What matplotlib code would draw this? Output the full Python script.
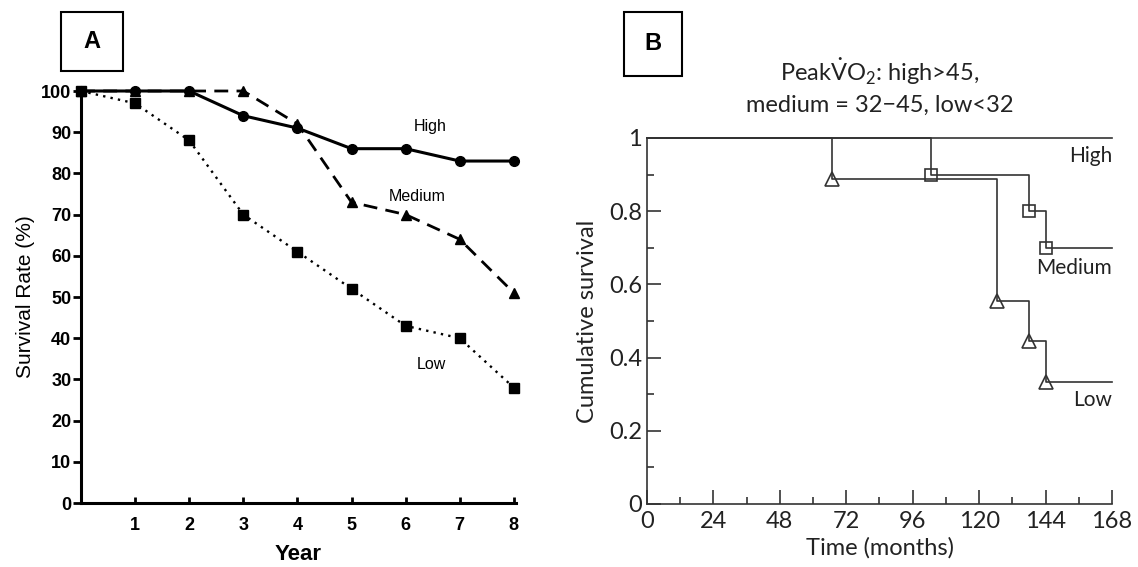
import numpy as np
import matplotlib
matplotlib.use("Agg")
import matplotlib.pyplot as plt
from matplotlib.patches import Rectangle

# panel A data (survival rate %, by year)
years = [0, 1, 2, 3, 4, 5, 6, 7, 8]
high_a = [100, 100, 100, 94, 91, 86, 86, 83, 83]
medium_a = [100, 100, 100, 100, 92, 73, 70, 64, 51]
low_a = [100, 97, 88, 70, 61, 52, 43, 40, 28]

# panel B data (Kaplan-Meier steps, months)
high_t = [0, 168]
high_s = [1.0, 1.0]
medium_t = [0, 102.5, 138, 144, 168]
medium_s = [1.0, 0.9, 0.8, 0.7, 0.7]
low_t = [0, 67, 126.5, 138, 144, 168]
low_s = [1.0, 0.889, 0.556, 0.444, 0.333, 0.333]

W, H = 1138, 567
fig = plt.figure(figsize=(W / 100, H / 100), dpi=100)
fig.patch.set_facecolor("white")

def px_axes(l, t, r, b):
    return fig.add_axes([l / W, 1 - b / H, (r - l) / W, (b - t) / H])

# ---------------- panel A ----------------
fa = "Liberation Sans"
axa = px_axes(81, 91, 516, 503)
axa.plot(years, high_a, "k-", lw=2.2, marker="o", ms=7, clip_on=False, zorder=3)
axa.plot(years, medium_a, "k", ls=(0, (5, 3)), lw=2.0, marker="^", ms=7, clip_on=False, zorder=3)
axa.plot(years, low_a, "k", ls=(0, (1, 2.2)), lw=1.7, marker="s", ms=7, clip_on=False, zorder=3)
axa.set_xlim(0, 8.04)
axa.set_ylim(0, 100)
for s in ["top", "right"]:
    axa.spines[s].set_visible(False)
for s in ["left", "bottom"]:
    axa.spines[s].set_linewidth(2.2)
axa.set_xticks(range(1, 9))
axa.set_yticks(range(0, 101, 10))
axa.tick_params(axis="y", direction="out", length=6, width=2, labelsize=13, pad=1)
axa.tick_params(axis="x", direction="in", length=4, width=2, labelsize=13, pad=10)
for lab in axa.get_xticklabels() + axa.get_yticklabels():
    lab.set_fontfamily(fa)
    lab.set_fontweight("bold")
axa.set_ylabel("Survival Rate (%)", fontsize=15, family=fa, labelpad=4)
axa.set_xlabel("Year", fontsize=16, family=fa, fontweight="bold", labelpad=7)
axa.text(6.45, 91.5, "High", fontsize=11.5, family=fa, ha="center", va="center")
axa.text(6.22, 74.5, "Medium", fontsize=11.5, family=fa, ha="center", va="center")
axa.text(6.47, 33.5, "Low", fontsize=11.5, family=fa, ha="center", va="center")

# ---------------- panel B ----------------
fb = "Lato"
plt.rcParams["mathtext.fontset"] = "custom"
plt.rcParams["mathtext.rm"] = fb
plt.rcParams["mathtext.it"] = fb
axb = px_axes(647, 138, 1112, 504)
axb.step(high_t, high_s, where="post", color="#333333", lw=1.2, clip_on=False)
axb.step(medium_t, medium_s, where="post", color="#333333", lw=1.2, clip_on=False)
axb.step(low_t, low_s, where="post", color="#333333", lw=1.2, clip_on=False)
axb.plot(medium_t[1:-1], medium_s[1:-1], ls="none", marker="s", ms=8, mfc="none",
         mec="#333333", mew=1.2, clip_on=False)
axb.plot(low_t[1:-1], low_s[1:-1], ls="none", marker="^", ms=10, mfc="none",
         mec="#333333", mew=1.2, clip_on=False)
axb.set_xlim(0, 168)
axb.set_ylim(0, 1)
for s in ["top", "right"]:
    axb.spines[s].set_visible(False)
for s in ["left", "bottom"]:
    axb.spines[s].set_linewidth(1.2)
    axb.spines[s].set_color("#333333")
axb.set_xticks(range(0, 169, 24))
axb.set_xticks(range(12, 168, 24), minor=True)
axb.set_yticks([0, 0.2, 0.4, 0.6, 0.8, 1])
axb.set_yticklabels(["0", "0.2", "0.4", "0.6", "0.8", "1"])
axb.set_yticks([0.1, 0.3, 0.5, 0.7, 0.9], minor=True)
axb.tick_params(which="major", direction="in", length=10, width=1.2, color="#333333",
                labelsize=17, labelcolor="#222222")
axb.tick_params(which="minor", direction="in", length=5, width=1.2, color="#333333")
axb.tick_params(axis="x", which="major", pad=5)
for lab in axb.get_xticklabels() + axb.get_yticklabels():
    lab.set_fontfamily(fb)
axb.set_ylabel("Cumulative survival", fontsize=17, family=fb, color="#222222", labelpad=8)
axb.set_xlabel("Time (months)", fontsize=17, family=fb, color="#222222", labelpad=4)
axb.text(168, 0.95, "High", fontsize=15, family=fb, ha="right", va="center", color="#222222")
axb.text(168, 0.645, "Medium", fontsize=15, family=fb, ha="right", va="center", color="#222222")
axb.text(168, 0.285, "Low", fontsize=15, family=fb, ha="right", va="center", color="#222222")
fig.text(880 / W, 1 - 72 / H, r"Peak$\dot{\mathrm{V}}$O$_2$: high>45,", fontsize=17,
         family=fb, ha="center", va="center", color="#222222")
fig.text(880 / W, 1 - 105 / H, "medium = 32\u221245, low<32", fontsize=17,
         family=fb, ha="center", va="center", color="#222222")

# panel letters in boxes
for (l, t, r, b, letter) in [(61, 12, 123, 71, "A"), (624, 12, 682, 76, "B")]:
    fig.patches.append(Rectangle((l / W, 1 - b / H), (r - l) / W, (b - t) / H,
                                 transform=fig.transFigure, fill=False, ec="black", lw=1.5))
    fig.text((l + r) / 2 / W, 1 - (t + b) / 2 / H, letter, fontsize=17, family="Liberation Sans",
             fontweight="bold", ha="center", va="center")

fig.savefig("out.png", dpi=100)
